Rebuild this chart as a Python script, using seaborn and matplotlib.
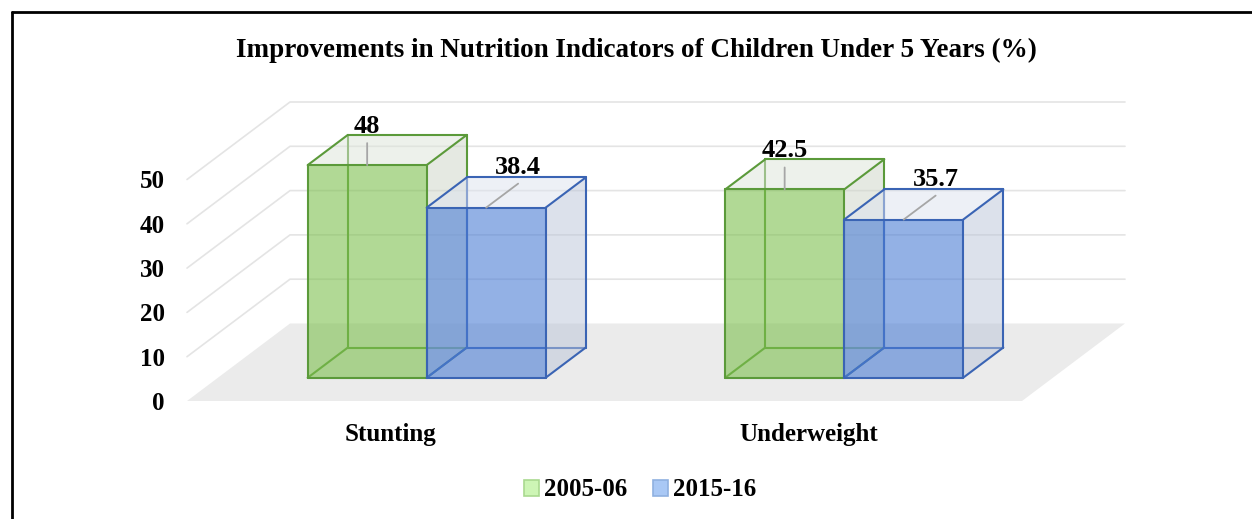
import matplotlib
matplotlib.use("Agg")
import matplotlib.pyplot as plt
import matplotlib.transforms as mtransforms
from matplotlib.patches import Polygon, Patch
from matplotlib.lines import Line2D
import pandas as pd
import seaborn as sns

# data
categories = ["Stunting", "Underweight"]
periods = ["2005-06", "2015-16"]
values_2005 = [48, 42.5]
values_2015 = [38.4, 35.7]
y_ticks = [0, 10, 20, 30, 40, 50]

df = pd.DataFrame({
    "Indicator": categories * 2,
    "Period": [periods[0]] * 2 + [periods[1]] * 2,
    "Value": values_2005 + values_2015,
})

sns.set_theme(style="white")
plt.rcParams["font.family"] = ["Liberation Serif", "DejaVu Serif"]
plt.rcParams["font.weight"] = "bold"
plt.rcParams["text.color"] = "black"

W, H, DPI = 12.52, 5.19, 100
fig = plt.figure(figsize=(W, H), dpi=DPI)
ax = fig.add_axes([187 / 1252, 118 / 519, 835 / 1252, 221.5 / 519])
ax.patch.set_alpha(0)

# colours of the two series: front face, edge, top face, side face, legend swatch
front_cols = ["#7dc04e", "#4b7dd5"]
edge_cols = ["#5b9a3a", "#3a64b4"]
top_cols = ["#dde5d9", "#dde3ef"]
side_cols = ["#cdd5c7", "#bbc5d9"]
legend_cols = [("#cdf5b5", "#a9d98f"), ("#a9c8f5", "#8fb0e0")]

sns.barplot(data=df, x="Indicator", y="Value", hue="Period", hue_order=periods,
            palette=front_cols, width=0.57, gap=0, legend=False, ax=ax)
bars = list(ax.patches)
ax.set_xlim(-0.5, 1.5)
ax.set_ylim(0, 50)
ax.set_xlabel("")
ax.set_ylabel("")
sns.despine(ax=ax, left=True, bottom=True)
ax.grid(False)

# depth vector of the floor in pixels, bars sit between d0 and d1
DEPTH = (103, 77.5)
d0, d1 = 0.3, 0.69


def proj(x, y, d):
    px, py = ax.transData.transform((x, y))
    return (px + DEPTH[0] * d, py + DEPTH[1] * d)


def depth_tf(d):
    return ax.transData + mtransforms.Affine2D().translate(DEPTH[0] * d, DEPTH[1] * d)


ident = mtransforms.IdentityTransform()
x_lo, x_hi = ax.get_xlim()

# floor
floor = Polygon([proj(x_lo, 0, 0), proj(x_hi, 0, 0), proj(x_hi, 0, 1), proj(x_lo, 0, 1)],
                closed=True, facecolor="#ebebeb", edgecolor="none",
                transform=ident, zorder=0.2, clip_on=False)
ax.add_artist(floor)

# side wall + back wall gridlines
for yv in y_ticks[1:]:
    pts = [proj(x_lo, yv, 0), proj(x_lo, yv, 1), proj(x_hi, yv, 1)]
    ax.add_artist(Line2D([p[0] for p in pts], [p[1] for p in pts], color="#e4e4e4",
                         lw=1.2, transform=ident, zorder=0.5, clip_on=False))


def seg(a, b, color, z):
    ax.add_artist(Line2D([a[0], b[0]], [a[1], b[1]], color=color, lw=1.5,
                         transform=ident, zorder=z, clip_on=False,
                         solid_capstyle="round"))


n_cat = len(categories)
for i, p in enumerate(bars):
    s = i // n_cat
    x0, w, h = p.get_x(), p.get_width(), p.get_height()
    x1 = x0 + w
    z = 2 + s
    ec = edge_cols[s]
    A, B, C, D = proj(x0, 0, d0), proj(x1, 0, d0), proj(x1, h, d0), proj(x0, h, d0)
    E, F, G, Hh = proj(x0, 0, d1), proj(x1, 0, d1), proj(x1, h, d1), proj(x0, h, d1)
    # hidden edges, seen through the faces
    for a, b in [(A, E), (E, F), (E, Hh)]:
        seg(a, b, ec, z + 0.1)
    # front face from seaborn's bar, pushed back to depth d0
    p.set_transform(depth_tf(d0))
    p.set_facecolor(front_cols[s])
    p.set_alpha(0.6)
    p.set_edgecolor("none")
    p.set_zorder(z + 0.2)
    p.set_clip_on(False)
    for pts, fc in [([D, C, G, Hh], top_cols[s]), ([B, F, G, C], side_cols[s])]:
        ax.add_artist(Polygon(pts, closed=True, facecolor=fc, alpha=0.5, edgecolor="none",
                              transform=ident, zorder=z + 0.3, clip_on=False))
    for a, b in [(A, B), (B, C), (C, D), (D, A), (D, Hh), (C, G), (Hh, G), (G, F), (B, F)]:
        seg(a, b, ec, z + 0.4)

# data labels with leader lines
label_offsets = [((0, 22), (0, 32)), ((32, 24), (32, 34))]
for i, p in enumerate(bars):
    s = i // n_cat
    xc = p.get_x() + p.get_width() / 2
    h = p.get_height()
    lead, txt = label_offsets[s]
    ax.annotate("", xy=(xc, h), xycoords=depth_tf(d0), xytext=lead,
                textcoords="offset pixels",
                arrowprops=dict(arrowstyle="-", color="#a6a6a6", lw=1.3,
                                shrinkA=0, shrinkB=0), zorder=6, annotation_clip=False)
    val = df["Value"].iloc[i]
    ax.annotate(f"{val:g}", xy=(xc, h), xycoords=depth_tf(d0), xytext=txt,
                textcoords="offset pixels", ha="center", va="baseline",
                fontsize=19, fontweight="bold", color="black", zorder=7,
                annotation_clip=False)

# axes labels
ax.set_yticks(y_ticks)
ax.set_yticklabels([str(t) for t in y_ticks])
ax.tick_params(axis="y", length=0, pad=16, labelsize=18, labelcolor="black")
ax.tick_params(axis="x", length=0, pad=16, labelsize=18, labelcolor="black")
for lab in ax.get_xticklabels() + ax.get_yticklabels():
    lab.set_fontweight("bold")
for lab in ax.get_xticklabels():
    lab.set_transform(lab.get_transform() + mtransforms.Affine2D().translate(-5, 0))

# title
fig.text(0.5085, 462 / 519, "Improvements in Nutrition Indicators of Children Under 5 Years (%)",
         ha="center", va="baseline", fontsize=19.5, fontweight="bold", color="black")

# legend
handles = [Patch(facecolor=fc, edgecolor=ecl, linewidth=1.2) for fc, ecl in legend_cols]
fig.legend(handles, periods, loc="center", bbox_to_anchor=(640 / 1252, 29 / 519), ncol=2,
           frameon=False, handlelength=0.6, handleheight=0.6, handletextpad=0.2,
           columnspacing=1.0, labelcolor="black", prop={"size": 18, "weight": "bold"})

# outer frame (only the top and left edges are inside the picture)
fig.add_artist(Line2D([11.5 / 1252, 1.0], [507 / 519, 507 / 519], color="black", lw=2,
                      transform=fig.transFigure))
fig.add_artist(Line2D([11.5 / 1252, 11.5 / 1252], [0, 507 / 519], color="black", lw=2,
                      transform=fig.transFigure))

fig.savefig("out.png", dpi=DPI)
